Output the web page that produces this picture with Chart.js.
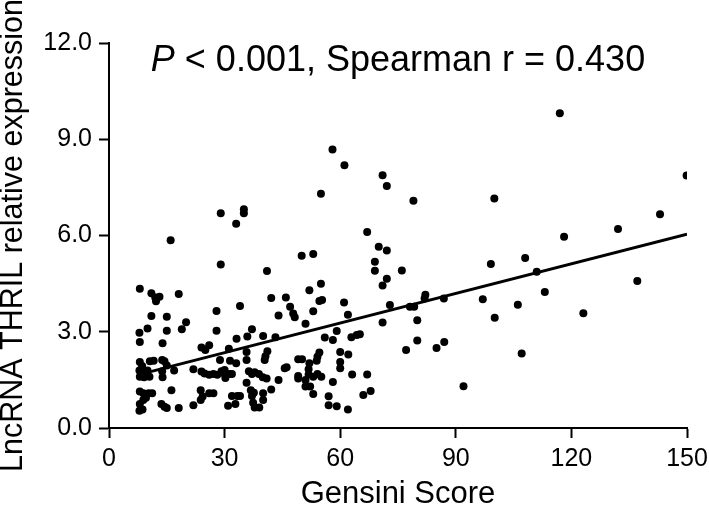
<!DOCTYPE html>
<html>
<head>
<meta charset="utf-8">
<script src="https://cdn.jsdelivr.net/npm/chart.js@4"></script>
<style>
    body { margin: 0; background: #fff; }
    #wrap { width: 709px; height: 514px; }
</style>
</head>
<body>
<div id="wrap"><canvas id="thrilChart" width="709" height="514"></canvas></div>
<script>
// Gensini score (x) and THRIL relative expression (y)
const gensiniScore = [
    29.0, 35.0, 35.0, 33.0, 16.0, 29.0, 41.0, 8.0,
    58.0, 61.1, 71.0, 72.1, 55.0, 79.0, 67.0, 70.0, 72.1, 50.0, 53.0, 69.0, 69.0, 76.0, 55.0, 72.1, 71.0, 52.0,
    117.0, 100.0, 149.9, 143.0, 132.1, 118.1, 99.1, 108.0, 111.0, 137.1,
    86.9, 97.0, 100.1, 106.1, 113.1, 123.1, 85.0, 87.0, 107.1, 92.0,
    45.9, 54.6, 55.3, 47.0, 47.8, 48.2, 53.0, 61.0, 62.0, 51.0, 72.9, 78.1, 79.2, 82.1, 81.9, 71.0, 80.0,
    56.0, 58.1, 59.1, 62.9, 64.3, 65.1, 80.0, 77.1, 60.0, 62.1, 54.6, 54.1, 53.9, 49.1, 50.1, 52.0,
    51.8, 51.8, 53.0, 54.1, 55.1, 45.6, 46.1, 49.1, 49.1, 51.0, 51.0, 52.2, 53.0, 58.1, 60.0, 60.0,
    63.1, 67.0, 66.0, 67.9, 57.0, 57.0, 59.1, 62.0,
    11.0, 12.0, 13.1, 12.2, 18.1, 42.1, 34.0, 27.9, 11.0, 15.0, 20.0, 18.9, 7.9, 10.0, 15.0, 27.9,
    44.0, 8.0, 13.9, 37.1, 35.9, 33.1, 40.0, 43.2, 24.0, 26.0, 25.0, 31.1, 35.7, 35.7, 41.1, 40.6,
    40.4, 28.8, 31.4, 33.0, 8.0, 8.6, 10.6, 11.6, 13.8, 14.4, 15.0, 7.9, 8.9, 10.0, 10.5, 8.0,
    9.1, 13.8, 13.9, 16.9, 21.9, 24.0, 24.8, 26.0, 27.1, 28.1, 29.2, 30.0, 30.0, 30.2, 31.2, 31.9,
    36.3, 37.1, 37.8, 38.9, 39.9, 40.9, 44.0, 35.7, 36.8, 37.6, 37.1, 40.0, 42.1, 23.8, 26.0, 27.1,
    24.3, 23.8, 21.9, 16.2, 8.0, 8.9, 10.3, 11.2, 9.6, 8.9, 8.0, 8.7, 7.9, 13.6, 14.4, 15.0,
    18.1, 30.9, 31.9, 33.3, 34.0, 32.8, 37.4, 37.8, 39.0, 40.0
];
const thrilExpression = [
    6.69, 6.82, 6.69, 6.37, 5.85, 5.10, 4.89, 4.34,
    8.68, 8.19, 7.88, 7.54, 7.30, 7.08, 6.11, 5.65, 5.53, 5.37, 5.42, 5.18, 4.90, 4.91, 4.50, 4.65, 4.44, 4.29,
    9.81, 7.15, 7.87, 6.66, 6.20, 5.96, 5.11, 5.30, 4.87, 4.58,
    4.04, 4.01, 3.44, 3.84, 4.24, 3.58, 2.49, 2.68, 2.32, 1.30,
    4.07, 3.96, 3.99, 3.78, 3.57, 3.45, 3.64, 3.91, 3.53, 3.25, 3.83, 3.78, 3.78, 4.15, 4.04, 3.29, 3.36,
    2.82, 2.74, 3.02, 2.83, 2.90, 2.92, 2.73, 2.43, 2.37, 2.29, 2.35, 2.22, 2.10, 2.14, 2.14, 2.02,
    1.83, 1.67, 1.60, 1.68, 1.60, 1.86, 1.89, 1.62, 1.54, 1.50, 1.29, 1.29, 1.06, 1.43, 2.06, 1.86,
    1.67, 1.67, 1.03, 1.15, 0.99, 0.71, 0.68, 0.58,
    4.20, 4.07, 4.09, 3.95, 4.18, 4.05, 3.80, 3.65, 3.49, 3.47, 3.30, 3.08, 2.97, 3.10, 3.03, 3.03,
    3.51, 2.68, 2.64, 3.08, 2.85, 2.78, 2.87, 2.83, 2.51, 2.58, 2.43, 2.47, 2.37, 2.12, 2.39, 2.24,
    2.12, 2.12, 2.10, 2.02, 2.06, 1.93, 2.08, 2.10, 2.12, 2.08, 1.95, 1.79, 1.77, 1.79, 1.60, 1.60,
    1.58, 1.77, 1.58, 1.79, 1.83, 1.76, 1.70, 1.66, 1.68, 1.66, 1.77, 1.81, 1.68, 1.56, 1.68, 1.68,
    1.77, 1.68, 1.74, 1.68, 1.58, 1.54, 1.50, 1.41, 1.18, 1.10, 1.00, 1.08, 1.20, 1.18, 1.08, 1.08,
    0.98, 0.87, 0.71, 1.18, 1.14, 1.08, 1.08, 1.08, 0.94, 0.87, 0.75, 0.58, 0.54, 0.75, 0.66, 0.62,
    0.62, 0.69, 1.00, 1.00, 1.00, 0.75, 0.79, 0.64, 0.64, 0.87
];

// fitted line end points
const fitX = [8, 150];
const fitY = [1.67, 6.04];

const xTicks = [0, 30, 60, 90, 120, 150];
const yTicks = [0, 3, 6, 9, 12];

const FONT = '"Liberation Sans", Arial, sans-serif';

// annotation text drawn inside the plot area
const statsText = {
    id: 'statsText',
    afterDraw(chart) {
        const ctx = chart.ctx;
        const area = chart.chartArea;
        const first = 'P';
        const rest = ' < 0.001, Spearman r = 0.430';
        ctx.save();
        ctx.fillStyle = '#000';
        ctx.textBaseline = 'alphabetic';
        ctx.font = 'italic 36px ' + FONT;
        const w1 = ctx.measureText(first).width;
        ctx.font = '36px ' + FONT;
        const w2 = ctx.measureText(rest).width;
        let x = (area.left + area.right) / 2 - (w1 + w2) / 2;
        const y = 71;
        ctx.font = 'italic 36px ' + FONT;
        ctx.fillText(first, x, y);
        ctx.font = '36px ' + FONT;
        ctx.fillText(rest, x + w1, y);
        ctx.restore();
    }
};

const points = gensiniScore.map((g, i) => ({ x: g, y: thrilExpression[i] }));
const fitLine = fitX.map((g, i) => ({ x: g, y: fitY[i] }));

new Chart(document.getElementById('thrilChart'), {
    type: 'scatter',
    data: {
        datasets: [
            {
                data: points,
                pointRadius: 4,
                pointBackgroundColor: '#000',
                pointBorderWidth: 0
            },
            {
                type: 'line',
                data: fitLine,
                borderColor: '#000',
                borderWidth: 3,
                pointRadius: 0,
                fill: false
            }
        ]
    },
    options: {
        responsive: false,
        animation: false,
        layout: { padding: { top: 43, right: 22, left: 0, bottom: 0 } },
        plugins: {
            legend: { display: false },
            tooltip: { enabled: false }
        },
        scales: {
            x: {
                type: 'linear',
                min: 0,
                max: 150,
                afterBuildTicks: scale => { scale.ticks = xTicks.map(v => ({ value: v })); },
                afterFit: scale => {
                    scale.height = 86;
                    scale.paddingLeft = 0;
                    scale.paddingRight = 0;
                },
                ticks: { color: '#000', font: { family: FONT, size: 25 }, padding: 6 },
                grid: { drawOnChartArea: false, tickLength: 10, tickColor: '#000', tickWidth: 2 },
                border: { color: '#000', width: 2 },
                title: { display: true, text: 'Gensini Score', color: '#000', font: { family: FONT, size: 31, lineHeight: 1.1 }, padding: { top: 0, bottom: 2 } }
            },
            y: {
                min: 0,
                max: 12,
                afterBuildTicks: scale => { scale.ticks = yTicks.map(v => ({ value: v })); },
                afterFit: scale => {
                    scale.width = 109;
                    scale.paddingTop = 0;
                    scale.paddingBottom = 0;
                },
                ticks: { color: '#000', font: { family: FONT, size: 25 }, padding: 7, callback: v => v.toFixed(1) },
                grid: { drawOnChartArea: false, tickLength: 10, tickColor: '#000', tickWidth: 2 },
                border: { color: '#000', width: 2 },
                title: { display: true, text: 'LncRNA THRIL relative expression', color: '#000', font: { family: FONT, size: 30.5, lineHeight: 0.9 }, padding: 0 }
            }
        }
    },
    plugins: [statsText]
});
</script>
</body>
</html>
